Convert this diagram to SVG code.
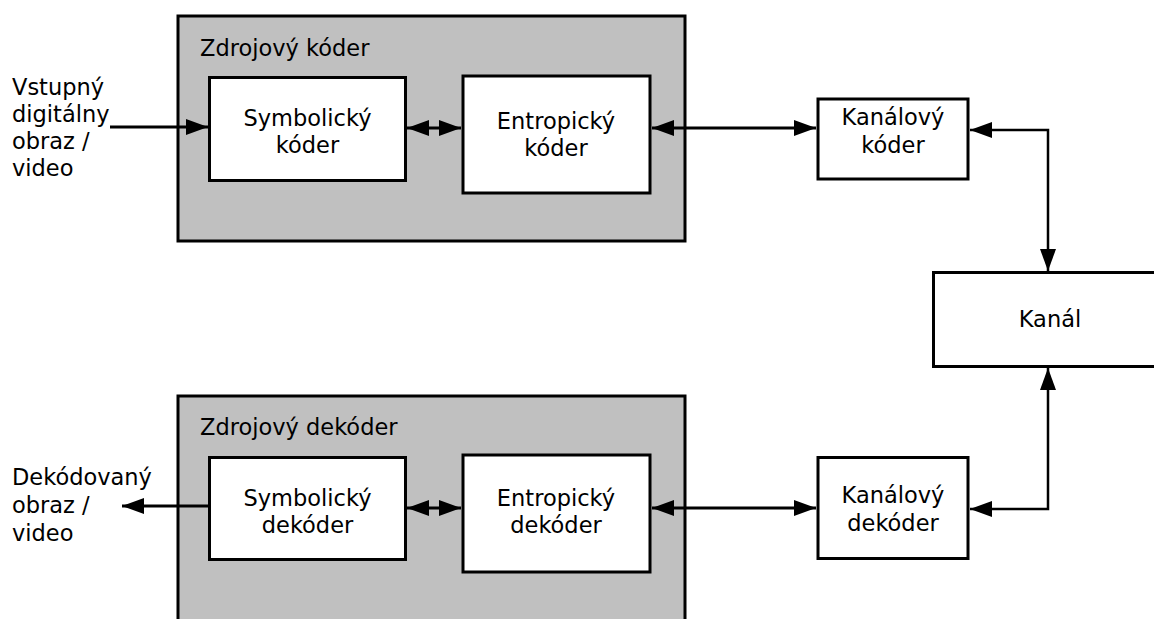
<svg xmlns="http://www.w3.org/2000/svg" width="1154" height="619" viewBox="0 0 1154 619">
<style>
text{font-family:"DejaVu Sans","Verdana",sans-serif;font-size:22.5px;fill:#000}
.c{text-anchor:middle}
.outer{fill:#c0c0c0;stroke:#000;stroke-width:3}
.box{fill:#fff;stroke:#000;stroke-width:3}
.ln{fill:none;stroke:#000;stroke-width:3}
.ln2{fill:none;stroke:#000;stroke-width:2.5}
</style>
<defs>
<marker id="ah" viewBox="0 0 22 16" refX="22" refY="8" markerWidth="22" markerHeight="16" markerUnits="userSpaceOnUse" orient="auto-start-reverse">
<path d="M0,0 L22,8 L0,16 z" fill="#000"/>
</marker>
</defs>
<rect width="1154" height="619" fill="#fff"/>
<g id="src-encoder">
<rect class="outer" x="178" y="16" width="507" height="225"/>
<text x="200" y="56">Zdrojový kóder</text>
</g>
<g id="src-decoder">
<rect class="outer" x="178" y="396" width="507" height="240"/>
<text x="200" y="435">Zdrojový dekóder</text>
</g>
<g id="input-label">
<text x="12" y="95">Vstupný</text>
<text x="12" y="122">digitálny</text>
<text x="12" y="149">obraz /</text>
<text x="12" y="176">video</text>
</g>
<g id="output-label">
<text x="12" y="485">Dekódovaný</text>
<text x="12" y="513">obraz /</text>
<text x="12" y="541">video</text>
</g>
<g id="sym-coder">
<rect class="box" x="209.5" y="77.5" width="196" height="103"/>
<text class="c" x="307.5" y="126">Symbolický</text>
<text class="c" x="307.5" y="153">kóder</text>
</g>
<g id="ent-coder">
<rect class="box" x="463" y="76" width="187" height="117"/>
<text class="c" x="556" y="129">Entropický</text>
<text class="c" x="556" y="156">kóder</text>
</g>
<g id="ch-coder">
<rect class="box" x="818" y="99" width="150" height="80"/>
<text class="c" x="893" y="125">Kanálový</text>
<text class="c" x="893" y="153">kóder</text>
</g>
<g id="channel">
<rect class="box" x="933.5" y="272.5" width="240" height="94"/>
<text class="c" x="1050" y="327">Kanál</text>
</g>
<g id="sym-decoder">
<rect class="box" x="209.5" y="457.5" width="196" height="102"/>
<text class="c" x="307.5" y="506">Symbolický</text>
<text class="c" x="307.5" y="533">dekóder</text>
</g>
<g id="ent-decoder">
<rect class="box" x="463" y="455" width="187" height="117"/>
<text class="c" x="556" y="506">Entropický</text>
<text class="c" x="556" y="533">dekóder</text>
</g>
<g id="ch-decoder">
<rect class="box" x="818" y="457.5" width="150" height="101"/>
<text class="c" x="893" y="503">Kanálový</text>
<text class="c" x="893" y="531">dekóder</text>
</g>
<g id="connectors">
<line class="ln" x1="110" y1="127" x2="208" y2="127" marker-end="url(#ah)"/>
<line class="ln" x1="407" y1="128" x2="461" y2="128" marker-start="url(#ah)" marker-end="url(#ah)"/>
<line class="ln" x1="652" y1="128" x2="816" y2="128" marker-start="url(#ah)" marker-end="url(#ah)"/>
<path class="ln2" d="M970,130 H1048 V271" marker-start="url(#ah)" marker-end="url(#ah)"/>
<line class="ln" x1="208" y1="506" x2="122" y2="506" marker-end="url(#ah)"/>
<line class="ln" x1="407" y1="508" x2="461" y2="508" marker-start="url(#ah)" marker-end="url(#ah)"/>
<line class="ln" x1="652" y1="508" x2="816" y2="508" marker-start="url(#ah)" marker-end="url(#ah)"/>
<path class="ln2" d="M970,509 H1048 V368" marker-start="url(#ah)" marker-end="url(#ah)"/>
</g>
</svg>
